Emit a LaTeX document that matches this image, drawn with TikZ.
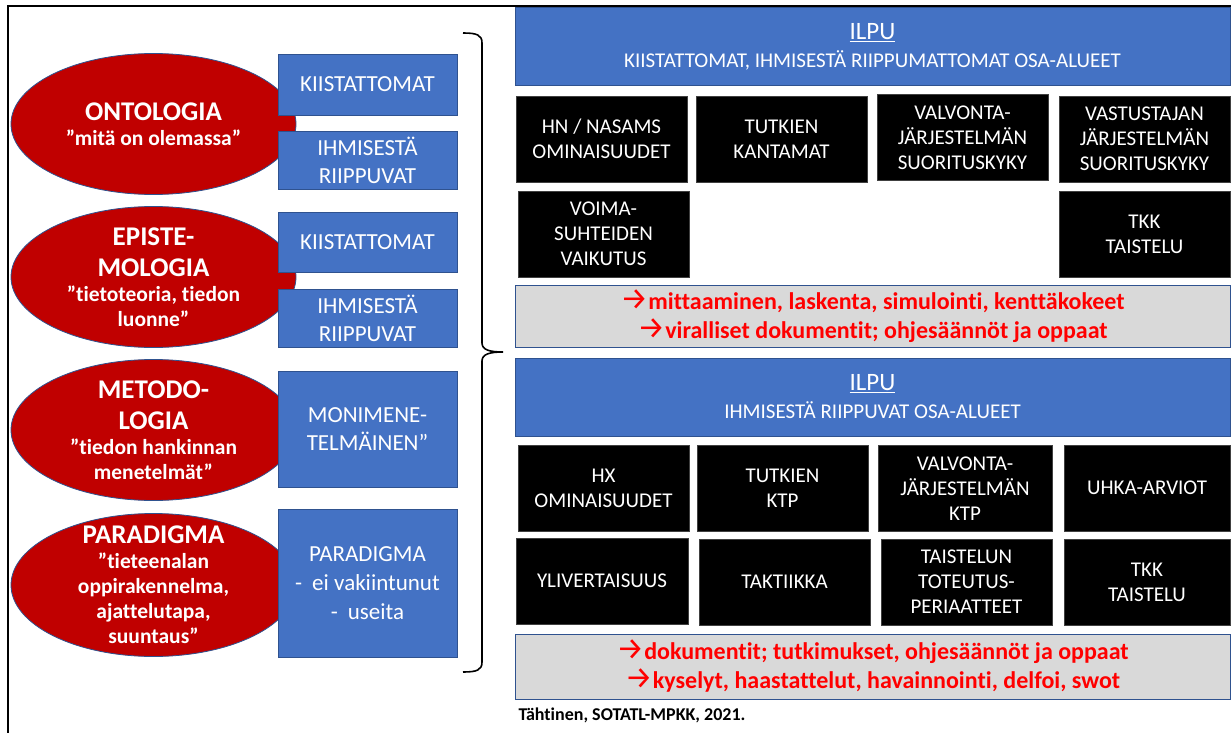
\documentclass[tikz,border=0pt]{standalone}
\usepackage{fontspec}
\setmainfont{Carlito}[Ligatures={NoCommon}]
\newfontfamily\arrowfont{Fira Sans}
\usetikzlibrary{shapes.geometric}
\definecolor{boxblue}{HTML}{4472C4}
\definecolor{boxedge}{HTML}{2F528F}
\definecolor{ellred}{HTML}{C00000}
\definecolor{notegray}{HTML}{D9D9D9}
\definecolor{notered}{HTML}{FF0000}
\newcommand{\fs}[2]{\fontsize{#1}{#2}\selectfont}
\newcommand{\ttl}{\fs{27}{31}}
\newcommand{\ra}{{\arrowfont\mdseries\fs{31}{29}→}}

\begin{document}
\begin{tikzpicture}[
  x=1pt, y=-1pt,
  ell/.style={ellipse, draw=boxedge, line width=0.8pt, fill=ellred, minimum width=285pt, minimum height=141pt, inner sep=0pt},
  elltxt/.style={text=white, align=center, font=\bfseries\fs{21.5}{25}},
  sidebox/.style={draw=boxedge, line width=0.8pt, fill=boxblue, text=white, align=center, minimum width=179pt, inner sep=0pt, font=\fs{23}{28}},
  bar/.style={draw=boxedge, line width=0.8pt, fill=boxblue, text=white, align=center, minimum width=715pt, minimum height=78pt, inner sep=0pt, font=\fs{21}{28}},
  blk/.style={draw=black!75, line width=0.6pt, fill=black, text=white, align=center, minimum width=171pt, minimum height=86pt, inner sep=0pt, font=\fs{21}{25}},
  note/.style={draw=boxedge, line width=0.8pt, fill=notegray, text=notered, align=center, minimum width=715pt, inner sep=0pt, font=\bfseries\fs{24}{29}},
  frameline/.style={line width=2pt},
  curly/.style={line width=1.6pt}
]
\useasboundingbox (0,0) rectangle (1231,733);
\draw[frameline] (8,733) -- (8,6) -- (1231,6);

\node[ell] (onto) at (153.5,124) {};
\node[ell] (epis) at (153.5,277) {};
\node[ell] (meto) at (153.5,430) {};
\node[ell, minimum height=143pt] (para) at (153.5,585) {};
\node[elltxt] (ontotxt) at (onto) {{\ttl ONTOLOGIA}\\”mitä on olemassa”};
\node[elltxt] (epistxt) at (epis) {{\ttl EPISTE-}\\[6pt]{\ttl MOLOGIA}\\”tietoteoria, tiedon\\luonne”};
\node[elltxt] (metotxt) at (meto) {{\ttl METODO-}\\[6pt]{\ttl LOGIA}\\”tiedon hankinnan\\menetelmät”};
\node[elltxt] (paratxt) at (para) {{\ttl PARADIGMA}\\”tieteenalan\\oppirakennelma,\\ajattelutapa,\\suuntaus”};

\node[sidebox, minimum height=61pt] (kiis1) at (367.5,84.5) {KIISTATTOMAT};
\node[sidebox, minimum height=58pt] (ihm1) at (367.5,160) {IHMISESTÄ\\RIIPPUVAT};
\node[sidebox, minimum height=60pt] (kiis2) at (367.5,242) {KIISTATTOMAT};
\node[sidebox, minimum height=58pt] (ihm2) at (367.5,318) {IHMISESTÄ\\RIIPPUVAT};
\node[sidebox, minimum height=116pt] (moni) at (367.5,429) {MONIMENE-\\TELMÄINEN”};
\node[sidebox, minimum height=148pt, font=\fs{23}{29}] (parab) at (367.5,583) {PARADIGMA\\-\hspace{10pt}ei vakiintunut\\-\hspace{10pt}useita};

\draw[curly] (463,33) .. controls (477,33) and (482,35) .. (482,43) -- (482,343)
  .. controls (482,350) and (490,352) .. (503,352)
  .. controls (490,352) and (482,354) .. (482,361) -- (482,662)
  .. controls (482,670) and (477,672) .. (463,672);

\node[bar] (ilpu1) at (872.5,46.5) {{\fs{25}{28}\underline{ILPU}}\\KIISTATTOMAT, IHMISESTÄ RIIPPUMATTOMAT OSA-ALUEET};
\node[blk] (hn) at (601.5,139) {HN / NASAMS\\OMINAISUUDET};
\node[blk] (kant) at (781.5,139) {TUTKIEN\\KANTAMAT};
\node[blk] (valv) at (962.5,137.5) {VALVONTA-\\JÄRJESTELMÄN\\SUORITUSKYKY};
\node[blk] (vast) at (1144.5,139) {VASTUSTAJAN\\JÄRJESTELMÄN\\SUORITUSKYKY};
\node[blk] (voima) at (603.5,234) {VOIMA-\\SUHTEIDEN\\VAIKUTUS};
\node[blk] (tkk1) at (1144.5,234) {TKK\\TAISTELU};
\node[note, minimum height=62pt] (mitt) at (872.5,316) {\ra mittaaminen, laskenta, simulointi, kenttäkokeet\\\ra viralliset dokumentit; ohjesäännöt ja oppaat};

\node[bar] (ilpu2) at (872.5,397) {{\fs{25}{28}\underline{ILPU}}\\IHMISESTÄ RIIPPUVAT OSA-ALUEET};
\node[blk] (hx) at (603.5,488) {HX\\OMINAISUUDET};
\node[blk] (ktp) at (782.5,488) {TUTKIEN\\KTP};
\node[blk, minimum width=174pt] (valvktp) at (965,488.5) {VALVONTA-\\JÄRJESTELMÄN\\KTP};
\node[blk, minimum width=166pt] (uhka) at (1147,488) {UHKA-ARVIOT};
\node[blk, minimum width=172pt] (yliv) at (602,581) {YLIVERTAISUUS};
\node[blk] (takt) at (784.5,582) {TAKTIIKKA};
\node[blk] (toteut) at (966.5,582) {TAISTELUN\\TOTEUTUS-\\PERIAATTEET};
\node[blk, minimum width=166pt] (tkk2) at (1147,582) {TKK\\TAISTELU};
\node[note, minimum height=65pt] (doku) at (872.5,666.5) {\ra dokumentit; tutkimukset, ohjesäännöt ja oppaat\\\ra kyselyt, haastattelut, havainnointi, delfoi, swot};

\node[anchor=west, font=\bfseries\fs{18}{22}] (src) at (515,715) {Tähtinen, SOTATL-MPKK, 2021.};
\end{tikzpicture}
\end{document}
